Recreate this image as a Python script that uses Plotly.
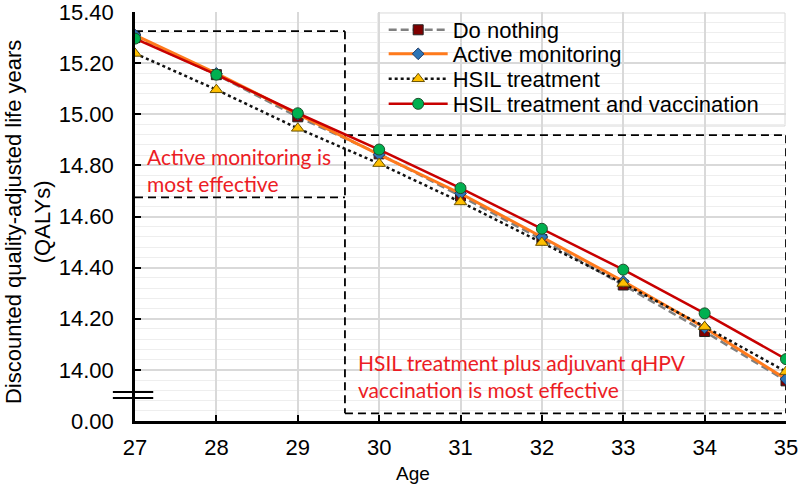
import plotly.graph_objects as go

ages = [27, 28, 29, 30, 31, 32, 33, 34, 35]
do_nothing = [15.300, 15.155, 14.990, 14.845, 14.680, 14.510, 14.332, 14.150, 13.957]
active_monitoring = [15.310, 15.160, 15.000, 14.842, 14.690, 14.520, 14.346, 14.165, 13.964]
hsil_treatment = [15.238, 15.096, 14.945, 14.807, 14.657, 14.498, 14.338, 14.169, 13.993]
hsil_vaccination = [15.296, 15.155, 15.004, 14.862, 14.711, 14.552, 14.392, 14.221, 14.042]

series_names = ["Do nothing", "Active monitoring", "HSIL treatment", "HSIL treatment and vaccination"]
y_tickvals = [13.8, 14.0, 14.2, 14.4, 14.6, 14.8, 15.0, 15.2, 15.4]
y_ticktext = ["0.00", "14.00", "14.20", "14.40", "14.60", "14.80", "15.00", "15.20", "15.40"]
x_tickvals = ages

FONT = "Liberation Sans, Arial, sans-serif"
RED = "#ec1c24"

fig = go.Figure()
fig.add_trace(go.Scatter(
    x=ages, y=do_nothing, name=series_names[0], mode="lines+markers", legend="legend",
    line=dict(color="#808080", width=2.5, dash="8px,4px"),
    marker=dict(symbol="square", size=10, color="#7f0000", line=dict(color="#222222", width=1))))
fig.add_trace(go.Scatter(
    x=ages, y=active_monitoring, name=series_names[1], mode="lines+markers", legend="legend2",
    line=dict(color="#ff7a1c", width=3),
    marker=dict(symbol="diamond", size=9, color="#2e75b6", line=dict(color="#1f3864", width=1))))
fig.add_trace(go.Scatter(
    x=ages, y=hsil_treatment, name=series_names[2], mode="lines+markers", legend="legend3",
    line=dict(color="#111111", width=2.5, dash="dot"),
    marker=dict(symbol="triangle-up", size=11, color="#ffc000", line=dict(color="#6b5200", width=1))))
fig.add_trace(go.Scatter(
    x=ages, y=hsil_vaccination, name=series_names[3], mode="lines+markers", legend="legend4",
    line=dict(color="#c80000", width=2.5),
    marker=dict(symbol="circle", size=11, color="#00b050", line=dict(color="#1e4d2b", width=1))))

BOX_LINE = dict(color="black", width=1.8, dash="8px,5px")
XDIV, XL, XR = 29.58, 27, 35
Y1T, Y1B = 15.325, 14.675
Y2T, Y2B = 14.918, 13.83


def seg(x0, y0, x1, y1):
    return dict(type="line", xref="x", yref="y", x0=x0, y0=y0, x1=x1, y1=y1,
                line=BOX_LINE, layer="between")


shapes = [
    # legend box
    dict(type="rect", xref="paper", yref="paper", x0=0.3733, x1=0.9985, y0=0.7213, y1=0.9976,
         fillcolor="white", line=dict(color="#d9d9d9", width=1), layer="between"),
    seg(XL, Y1T, XDIV, Y1T),
    seg(XL, Y1B, XDIV, Y1B),
    seg(XDIV, Y1T, XDIV, Y2B),
    seg(XDIV, Y2T, XR, Y2T),
    seg(XDIV, Y2B, XR, Y2B),
    seg(XR, Y2T, XR, Y2B),
    dict(type="line", xref="paper", yref="paper", x0=-0.034, x1=0.028, y0=0.071, y1=0.071,
         line=dict(color="black", width=2)),
    dict(type="line", xref="paper", yref="paper", x0=-0.034, x1=0.028, y0=0.056, y1=0.056,
         line=dict(color="black", width=2)),
]

annotations = [
    dict(text="Active monitoring is<br>most effective", xref="x", yref="y", x=27.125, y=14.78,
         xanchor="left", yanchor="middle", align="left", showarrow=False,
         font=dict(family="Lato, sans-serif", size=21, color=RED)),
    dict(text="HSIL treatment plus adjuvant qHPV<br>vaccination is most effective", xref="x", yref="y",
         x=29.715, y=13.975, xanchor="left", yanchor="middle", align="left", showarrow=False,
         font=dict(family="Lato, sans-serif", size=21, color=RED)),
    dict(text="Discounted quality-adjusted life years<br>(QALYs)", xref="paper", yref="paper",
         x=-0.164, y=0.487, xanchor="center", yanchor="middle", textangle=-90, showarrow=False,
         font=dict(family=FONT, size=22, color="black")),
    dict(text="Age", xref="paper", yref="paper", x=0.427, y=-0.128, xanchor="center", yanchor="middle",
         showarrow=False, font=dict(family=FONT, size=19, color="black")),
]

row_y = [0.956, 0.8973, 0.8362, 0.775]
leg_common = dict(x=0.382, xanchor="left", yanchor="middle", bgcolor="rgba(0,0,0,0)",
                  borderwidth=0, font=dict(family=FONT, size=22), itemwidth=59)

fig.update_layout(
    width=800, height=487,
    margin=dict(l=135, r=14, t=12, b=66, autoexpand=False),
    paper_bgcolor="white", plot_bgcolor="white",
    font=dict(family=FONT, size=22, color="black"),
    showlegend=True,
    legend=dict(y=row_y[0], **leg_common),
    legend2=dict(y=row_y[1], **leg_common),
    legend3=dict(y=row_y[2], **leg_common),
    legend4=dict(y=row_y[3], **leg_common),
    shapes=shapes, annotations=annotations,
)
fig.update_xaxes(
    range=[27, 35], tickvals=x_tickvals, showgrid=True, gridcolor="#d9d9d9", gridwidth=1.5,
    showline=True, linecolor="black", linewidth=2.5, ticks="inside", ticklen=6, tickwidth=2,
    tickcolor="black", zeroline=False, ticklabelstandoff=5, tickfont=dict(size=22),
    automargin=False, ticklabeloverflow="allow")
fig.update_yaxes(
    range=[13.7999, 15.4001], tickvals=y_tickvals, ticktext=y_ticktext, showgrid=True,
    gridcolor="#d9d9d9", gridwidth=1.5, showline=True, linecolor="black", linewidth=2.5,
    ticks="inside", ticklen=6, tickwidth=2, tickcolor="black", zeroline=False,
    ticklabelstandoff=14, tickfont=dict(size=22), automargin=False, ticklabeloverflow="allow",
    minor=dict(dtick=0.04, tick0=13.8, showgrid=True, gridcolor="#eeeeee", gridwidth=1))

fig.write_html("out.html", config={"displayModeBar": False},
               post_script="document.body.style.margin='0';")
